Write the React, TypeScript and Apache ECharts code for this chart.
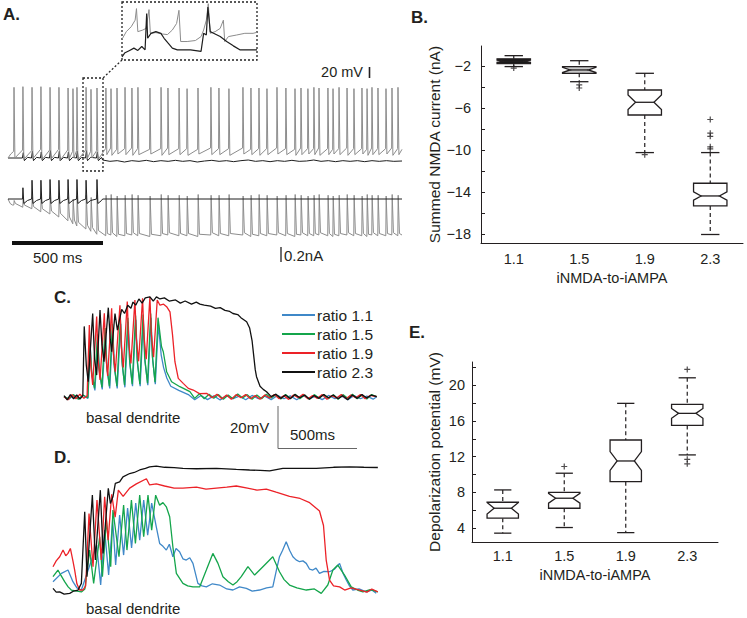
import React, { useEffect, useRef } from "react";
import * as echarts from "echarts";

// ---------------- Panel A (spike trains) ----------------
const aEndMs = 2165;
const aSpikeMs = [33, 82, 132, 181, 231, 280, 330, 357, 379, 429, 456, 489, 538, 566, 599, 643, 681, 714, 780, 841, 879, 940, 984, 1044, 1115, 1159, 1214, 1291, 1335, 1379, 1423, 1478, 1527, 1577, 1610, 1648, 1681, 1709, 1758, 1786, 1819, 1863, 1901, 1945, 1973, 2000, 2033, 2077, 2110, 2143];
const aTopPeakMv = [26, 27, 26, 27, 26, 26, 25, 24, 26, 26, 23, 25, 25, 24, 25, 26, 25, 26, 25, 26, 25, 25, 24, 25, 26, 25, 24, 26, 25, 25, 24, 26, 25, 24, 25, 24, 26, 25, 25, 24, 26, 25, 24, 25, 24, 26, 25, 24, 25, 26];
const aTopPreMv = [-70, -68, -69, -67, -68, -67, -68, -70, -69, -68, -70, -69, -66, -65, -67, -66, -65, -66, -67, -66, -65, -66, -66, -67, -65, -66, -66, -65, -67, -66, -66, -65, -66, -67, -65, -66, -66, -65, -66, -67, -66, -65, -66, -66, -67, -65, -66, -66, -65, -66];
const aTopAhpMv = [-80, -82, -81, -83, -82, -84, -82, -80, -83, -82, -80, -83, -75, -76, -74, -75, -76, -75, -74, -76, -75, -75, -76, -74, -75, -75, -76, -74, -75, -76, -75, -74, -75, -76, -75, -74, -75, -76, -75, -74, -75, -76, -75, -74, -76, -75, -75, -74, -76, -75];
const aBotPreNa = [-0.08, -0.11, -0.13, -0.17, -0.2, -0.24, -0.29, -0.33, -0.36, -0.4, -0.43, -0.47, -0.49, -0.48, -0.5, -0.49, -0.48, -0.49, -0.5, -0.49, -0.48, -0.49, -0.49, -0.5, -0.48, -0.49, -0.49, -0.48, -0.5, -0.49, -0.49, -0.48, -0.49, -0.5, -0.48, -0.49, -0.49, -0.48, -0.49, -0.5, -0.49, -0.48, -0.49, -0.49, -0.5, -0.48, -0.49, -0.49, -0.48, -0.49];
const aBotPeakNa = [-0.02, 0.0, 0.02, 0.03, 0.02, 0.04, 0.03, 0.0, 0.04, 0.05, 0.02, 0.05, 0.05, 0.06, 0.04, 0.05, 0.06, 0.05, 0.04, 0.06, 0.05, 0.05, 0.04, 0.06, 0.05, 0.05, 0.06, 0.04, 0.05, 0.06, 0.05, 0.04, 0.05, 0.06, 0.05, 0.04, 0.05, 0.06, 0.05, 0.04, 0.05, 0.06, 0.05, 0.04, 0.06, 0.05, 0.05, 0.04, 0.06, 0.05];
const aBotPostNa = [-0.06, -0.08, -0.1, -0.13, -0.16, -0.19, -0.24, -0.28, -0.31, -0.35, -0.38, -0.42, -0.46, -0.45, -0.47, -0.46, -0.45, -0.46, -0.47, -0.46, -0.45, -0.46, -0.46, -0.47, -0.45, -0.46, -0.46, -0.45, -0.47, -0.46, -0.46, -0.45, -0.46, -0.47, -0.45, -0.46, -0.46, -0.45, -0.46, -0.47, -0.46, -0.45, -0.46, -0.46, -0.47, -0.45, -0.46, -0.46, -0.45, -0.46];
const aBlackSpikeMs = [82, 132, 181, 231, 280, 330, 379, 429, 489];
const aBlackTopBumpMv = [-72, -70, -71, -69, -70, -71, -70, -69, -71];
const aBlackBotPeakNa = [0.15, 0.25, 0.25, 0.26, 0.25, 0.26, 0.26, 0.25, 0.26];
const aBlackTopTail = [[520, -83], [560, -85], [600, -84], [640, -86], [680, -84], [720, -85], [760, -83.5], [800, -85.5], [840, -84], [880, -85], [920, -83.5], [960, -85], [1000, -84], [1040, -86], [1080, -84.5], [1120, -83.5], [1160, -85], [1200, -84], [1240, -85.5], [1280, -84], [1320, -83], [1360, -85], [1400, -84], [1440, -85.5], [1480, -84], [1520, -85], [1560, -83.5], [1600, -85], [1640, -84.5], [1680, -83], [1720, -85], [1760, -84], [1800, -85.5], [1840, -84], [1880, -85], [1920, -84], [1960, -85.5], [2000, -84], [2040, -85], [2080, -84], [2120, -85], [2165, -84.5]];
const aInsetGray = [[0, 20], [3.5, 27.7], [7.5, 32.7], [10.7, 39.3], [11.8, 51], [12.9, 27.7], [16.9, 29.3], [19.6, 31], [22, 50], [23.1, 26], [27.6, 26.7], [33, 25.3], [37, 24.7], [41, 29.3], [44.5, 36], [46.4, 49.3], [47.8, 17.7], [53.1, 17.7], [59.8, 18.7], [64.4, 22.7], [66.5, 29.3], [68.7, 39.3], [70.3, 56], [71.9, 26], [75.9, 27.7], [80, 31], [82.6, 39.3], [83.7, 17.7], [86.7, 22.7], [93.4, 24.3], [100.1, 26], [106.8, 26], [110, 27]];
const aInsetBlack = [[0, 2], [2.1, 6], [6.2, 8.7], [9.7, 11], [12.9, 8.7], [16.1, 12.7], [18.8, 9.3], [20.1, 46], [20.9, 21], [23.6, 26], [27.6, 27.7], [31.7, 26], [34.3, 21], [37.6, 16], [41, 11], [45.1, 9.3], [55.8, 9.3], [64.4, 7.7], [66.5, 26], [68.7, 24.3], [70, 52.7], [71.9, 27.7], [74.6, 26], [80, 22.7], [85.3, 17.7], [90.7, 13.3], [96, 9.3], [102.8, 9.3], [110, 9.3]];

// ---------------- Panel B (summed NMDA current, nA) ----------------
const ratioCategories = ["1.1", "1.5", "1.9", "2.3"];
const bWhiskerLow = [-2.06, -3.5, -10.25, -18.05];
const bQ1 = [-1.78, -2.7, -6.67, -15.33];
const bMedian = [-1.55, -2.38, -5.46, -14.38];
const bQ3 = [-1.32, -2.06, -4.29, -13.17];
const bWhiskerHigh = [-1.02, -1.5, -2.7, -10.25];
const bNotch = [0.1, 0.25, 0.7, 0.4];
const bOutliers = [[0, -2.2], [1, -3.8], [1, -4.1], [2, -10.45], [3, -7.1], [3, -8.4], [3, -8.7], [3, -9.7], [3, -9.9]];
const bTicks = [-18, -16, -14, -12, -10, -8, -6, -4, -2];
const bLabels = [-18, -14, -10, -6, -2];

// ---------------- Panel E (depolarization, mV) ----------------
const eWhiskerLow = [3.44, 4.07, 3.5, 12.2];
const eQ1 = [5.12, 6.23, 9.2, 15.5];
const eMedian = [6.23, 7.35, 11.52, 16.85];
const eQ3 = [6.9, 8.0, 13.87, 17.86];
const eWhiskerHigh = [8.28, 10.15, 17.97, 20.83];
const eNotch = [0.65, 0.55, 1.05, 0.55];
const eOutliers = [[1, 10.9], [3, 21.77], [3, 11.7], [3, 11.2]];
const eTicks = [4, 6, 8, 10, 12, 14, 16, 18, 20, 22];
const eLabels = [4, 8, 12, 16, 20];

// ---------------- Panel C (ms, mV) ----------------
const ratioNames = ["ratio 1.1", "ratio 1.5", "ratio 1.9", "ratio 2.3"];
const cBlue = [[0, 0], [30, -1.2], [60, 0.8], [90, -1], [120, 0.6], [150, -0.8], [165, 24], [175, 10], [194, 3], [212, 28], [222, 12], [240, 3.5], [260, 31], [270, 13], [287, 4], [306, 33], [316, 14], [334, 4], [356, 35], [366, 15], [382, 4.5], [403, 36], [413, 16], [430, 5], [451, 37], [461, 16], [478, 5], [498, 37.5], [508, 17], [526, 5.5], [546, 38], [556, 18], [573, 6], [592, 35], [610, 20], [625, 14], [645, 9], [670, 5], [720, 3], [780, 1], [820, -1.5], [860, 0.6], [900, -1.4], [940, 0.4], [980, -1.6], [1020, 0.5], [1060, -1], [1100, 0.3], [1140, -1.5], [1180, 0.6], [1220, -1], [1260, 0.2], [1300, -1.4], [1340, 0.6], [1380, -1], [1420, 0.4], [1460, -1.5], [1500, 0.5], [1540, -1], [1580, 0.3], [1620, -1.4], [1660, 0.6], [1700, -1], [1740, 0.4], [1780, -1.5], [1820, 0.5], [1860, -1], [1900, 0.3], [1940, -1.2], [1962, 0]];
const cGreen = [[0, 0], [30, -1], [60, 1], [90, -1.2], [120, 0.8], [150, -0.5], [163, 26], [173, 12], [192, 4], [210, 30], [220, 14], [238, 4.5], [258, 33], [268, 15], [285, 5], [304, 35], [314, 16], [332, 5], [354, 37], [364, 17], [380, 5.5], [401, 38], [411, 18], [428, 6], [449, 39], [459, 18], [476, 6], [496, 39.5], [506, 19], [524, 6.5], [544, 40], [554, 20], [571, 7], [590, 38], [612, 24], [623, 21.6], [644, 12], [675, 7.2], [727, 4.8], [790, 2.4], [820, -0.8], [850, 1.4], [880, -1], [910, 1.2], [940, -0.8], [970, 1], [1000, -1.2], [1030, 0.8], [1060, -1], [1090, 1.3], [1120, -0.6], [1150, 1], [1180, -1.2], [1210, 0.8], [1240, -1], [1270, 1.2], [1300, -0.6], [1330, 0.9], [1360, -1.1], [1390, 1], [1420, -0.8], [1450, 1.2], [1480, -1], [1510, 0.8], [1540, -1.2], [1570, 1], [1600, -0.7], [1630, 1.1], [1660, -1], [1690, 0.9], [1720, -1.2], [1750, 1], [1780, -0.8], [1810, 1.2], [1840, -1], [1870, 0.8], [1900, -1.1], [1930, 1], [1962, 0]];
const cRed = [[0, 0], [25, -1.5], [50, 1], [75, -1], [100, 1.2], [125, -0.8], [145, 0.5], [159, 34.5], [168, 15], [180, 5.6], [205, 38.5], [214, 18], [226, 8], [253, 40.1], [262, 20], [274, 10], [299, 42.5], [308, 22], [322, 12], [351, 44], [360, 24], [372, 14], [397, 45.7], [406, 26], [420, 16], [445, 46.5], [454, 28], [468, 17], [493, 47.3], [502, 29], [516, 18], [539, 48], [548, 30], [562, 19], [585, 46.5], [602, 44], [625, 44.5], [644, 43.3], [665, 40.8], [681, 29.7], [696, 16.8], [717, 8.8], [748, 6.4], [780, 4], [811, 3.2], [850, 1.5], [895, 1.6], [930, -0.5], [960, 1.2], [990, -1], [1020, 0.8], [1050, -1.2], [1080, 1], [1110, -0.5], [1140, 1], [1170, -1], [1200, 0.6], [1230, -1.2], [1260, 0.8], [1290, -0.6], [1320, 1], [1350, -1], [1380, 0.5], [1410, -1.3], [1440, 0.8], [1470, -0.5], [1500, 1.2], [1530, -1], [1560, 0.6], [1590, -0.8], [1620, 1], [1650, -1.2], [1680, 0.5], [1710, -0.6], [1740, 1], [1770, -1], [1800, 0.8], [1830, -0.5], [1860, 1], [1890, -1], [1920, 0.6], [1962, 0]];
const cBlack = [[0, 0.5], [20, -1.5], [40, 1], [60, -1], [80, 0.8], [100, -1.2], [118, 0.5], [127, 33.8], [140, 15], [152, 7.2], [180, 40], [192, 18], [205, 10.4], [226, 41.7], [238, 25], [251, 16.8], [278, 42.8], [290, 28], [299, 21.6], [320, 40], [335, 32], [362, 42], [380, 40], [400, 44], [420, 42.5], [433, 45.5], [450, 44], [470, 47], [490, 45], [510, 47.5], [539, 48], [560, 46], [580, 48], [602, 47], [630, 47.5], [660, 46], [700, 46.5], [730, 45], [760, 46], [800, 44.5], [830, 45.5], [853, 44.5], [880, 44], [920, 43.5], [950, 42.5], [980, 42.8], [1010, 41.5], [1040, 41], [1060, 40], [1090, 39.5], [1110, 38], [1146, 36], [1165, 33], [1180, 27], [1190, 20], [1200, 13], [1208, 9.6], [1230, 5], [1250, 3.5], [1271, 2.4], [1300, 0], [1330, 1.2], [1360, -0.8], [1390, 0.8], [1420, -1], [1450, 1], [1480, -0.5], [1510, 0.8], [1540, -1.2], [1570, 0.6], [1600, -0.8], [1630, 1], [1660, -0.5], [1690, 0.8], [1720, -1], [1750, 0.5], [1780, -1.5], [1810, 0.8], [1840, -0.8], [1870, 1], [1900, -0.6], [1930, 0.8], [1962, 0]];

// ---------------- Panel D (ms, mV) ----------------
const dBlue = [[0, 5], [53, 9], [94, 10.6], [125, 5], [150, 2], [178, 1], [274, 22.6], [299, 3.4], [324, 29.8], [349, 8.2], [374, 34.6], [393, 13], [418, 37], [443, 17.8], [468, 40.4], [493, 21.2], [519, 42.8], [544, 25], [569, 44.2], [594, 27.4], [619, 42.8], [648, 31.4], [669, 23.4], [690, 22], [711, 20.2], [730, 23], [752, 17], [772, 21], [794, 19.4], [815, 16], [836, 15.4], [858, 16.5], [878, 13.8], [909, 4.2], [935, 3], [962, 2.5], [1000, 4], [1045, 3.4], [1090, 1.5], [1129, 1], [1170, 2.5], [1213, 1.8], [1250, 0.5], [1296, 1], [1340, 2], [1379, 2.5], [1400, 10], [1421, 17], [1440, 20], [1463, 24.2], [1485, 20], [1505, 17], [1525, 15.5], [1547, 14.6], [1568, 15], [1589, 13.8], [1610, 11], [1630, 10.6], [1650, 11.5], [1672, 9], [1700, 10], [1735, 9.8], [1765, 11], [1798, 13.8], [1820, 9], [1840, 5.8], [1860, 3], [1881, 1], [1920, 1.5], [1965, 0.1], [2000, 1], [2028, -0.6]];
const dGreen = [[0, 7.4], [31, 10.6], [50, 8], [73, 5], [95, 2.5], [115, 1], [178, 0.1], [200, 1.5], [230, 20.2], [255, 4.2], [293, 26.6], [310, 7.4], [335, 34.6], [362, 12.2], [376, 39.4], [414, 17], [443, 41.8], [464, 20.2], [492, 44.2], [517, 23.4], [544, 46.6], [569, 26.6], [596, 46.6], [619, 29.8], [644, 46.6], [669, 41.8], [690, 43], [711, 41], [732, 36.2], [752, 21.8], [774, 9], [815, 4.2], [845, 3], [878, 2.5], [920, 2.5], [962, 10.6], [1003, 18.6], [1035, 13.8], [1066, 7.4], [1100, 5], [1129, 3.4], [1155, 5], [1181, 7.4], [1223, 12.2], [1265, 8.2], [1317, 12.2], [1379, 17], [1421, 9.8], [1450, 6], [1484, 3.4], [1530, 2], [1589, 1], [1640, 1.5], [1683, -0.6], [1724, 3.4], [1756, 10.6], [1787, 13], [1829, 8.2], [1871, 2.5], [1910, 1], [1944, 0.1], [1990, 1.2], [2038, 0.1]];
const dRed = [[0, 12.2], [20, 15], [42, 17], [63, 20.2], [80, 17.5], [94, 18.6], [109, 21], [125, 15], [136, 10.6], [150, 4], [167, 1], [188, 1], [205, 3], [226, 37.8], [251, 12.2], [276, 44.2], [303, 15.4], [324, 45.8], [346, 25], [368, 47], [390, 36], [410, 49], [440, 46], [481, 50], [523, 52], [586, 54.5], [606, 51.5], [648, 52], [700, 51], [760, 50], [815, 50], [900, 50.5], [960, 49.5], [1025, 50], [1090, 50.5], [1150, 51], [1220, 50], [1280, 49], [1338, 49.5], [1400, 48], [1484, 46], [1550, 45], [1610, 43], [1672, 39], [1697, 32], [1714, 15.4], [1735, 5.8], [1760, 3], [1798, 2.5], [1830, 1], [1870, 2], [1924, 1], [1970, 0], [2000, 1.5], [2038, 0.1]];
const dBlack = [[0, 1.8], [20, 0], [42, 0.1], [70, -1], [105, -0.6], [130, 0.5], [157, 1], [178, 4.2], [199, 38.6], [213, 7.4], [247, 46.6], [266, 15.4], [297, 49], [314, 18.6], [347, 49.9], [360, 42.6], [376, 45.8], [391, 52.3], [418, 53], [439, 55.4], [481, 57], [510, 57.5], [544, 58.7], [580, 59.5], [606, 60.2], [648, 60.6], [700, 60], [760, 59.8], [815, 59.5], [900, 59.3], [1025, 59.5], [1150, 59], [1233, 58.7], [1300, 58.5], [1359, 58.3], [1442, 59.5], [1550, 59.5], [1652, 59.5], [1760, 60], [1861, 60.2], [1950, 60], [2038, 59.9]];

const TXT = "#231f20";
const FONT = '"Liberation Sans", Arial, Helvetica, sans-serif';
const traceColors = ["#3f88c8", "#14a54b", "#ec2228", "#111111"];
const boxFillsB = ["#1a1a1a", "#c9c9c9", "#ffffff", "#ffffff"];
const boxFillsE = ["#ffffff", "#ffffff", "#ffffff", "#ffffff"];

function grayTop() {
  const pts: number[][] = [[0, -80], [15, -74]];
  aSpikeMs.forEach((t, i) => {
    pts.push([t - 2, aTopPreMv[i]], [t, aTopPeakMv[i]], [t + 5, aTopAhpMv[i]]);
  });
  pts.push([aEndMs, -67]);
  return pts;
}
function blackTop() {
  const pts: number[][] = [[0, -80]];
  aBlackSpikeMs.forEach((t, i) => {
    pts.push([t - 3, -80], [t + 2, aBlackTopBumpMv[i]], [t + 8, -84], [t + 25, -79]);
  });
  return pts.concat(aBlackTopTail);
}
function grayBottom() {
  const pts: number[][] = [[0, 0], [12, -0.06], [24, -0.08]];
  aSpikeMs.forEach((t, i) => {
    pts.push([t - 1, aBotPreNa[i]], [t + 1, aBotPeakNa[i]], [t + 8, aBotPostNa[i]]);
  });
  pts.push([aEndMs, -0.48]);
  return pts;
}
function blackBottom() {
  const pts: number[][] = [[0, 0]];
  aBlackSpikeMs.forEach((t, i) => {
    pts.push([t - 2, 0], [t, aBlackBotPeakNa[i]], [t + 5, -0.06], [t + 25, -0.02]);
  });
  pts.push([520, 0], [aEndMs, 0]);
  return pts;
}

function boxRender(fills: string[]) {
  return (params: any, api: any) => {
    const i = api.value(0);
    const lo = api.value(1), q1 = api.value(2), med = api.value(3), q3 = api.value(4), hi = api.value(5), nh = api.value(6);
    const c = api.coord([i, med]);
    const cx = c[0], ym = c[1];
    const ya = api.coord([i, q1])[1], yb = api.coord([i, q3])[1];
    const yTop = Math.min(ya, yb), yBot = Math.max(ya, yb);
    const n1 = api.coord([i, med + nh])[1], n2 = api.coord([i, med - nh])[1];
    const nTop = Math.max(Math.min(n1, n2), yTop), nBot = Math.min(Math.max(n1, n2), yBot);
    const w1 = api.coord([i, lo])[1], w2 = api.coord([i, hi])[1];
    const wTop = Math.min(w1, w2), wBot = Math.max(w1, w2);
    const band = api.size([1, 0])[0];
    const hw = band * 0.255, ind = hw * 0.45, cap = hw * 0.55;
    const L = cx - hw, R = cx + hw;
    const ln = { stroke: TXT, lineWidth: 1.3 };
    const dash = { stroke: TXT, lineWidth: 1.2, lineDash: [4, 3] };
    return {
      type: "group",
      children: [
        { type: "line", shape: { x1: cx, y1: wTop, x2: cx, y2: yTop }, style: dash },
        { type: "line", shape: { x1: cx, y1: yBot, x2: cx, y2: wBot }, style: dash },
        { type: "line", shape: { x1: cx - cap, y1: wTop, x2: cx + cap, y2: wTop }, style: ln },
        { type: "line", shape: { x1: cx - cap, y1: wBot, x2: cx + cap, y2: wBot }, style: ln },
        {
          type: "polygon",
          shape: { points: [[L, yTop], [R, yTop], [R, nTop], [R - ind, ym], [R, nBot], [R, yBot], [L, yBot], [L, nBot], [L + ind, ym], [L, nTop]] },
          style: { fill: fills[params.dataIndex], stroke: TXT, lineWidth: 1.3 },
        },
        { type: "line", shape: { x1: L + ind, y1: ym, x2: R - ind, y2: ym }, style: ln },
      ],
    };
  };
}

const plusSymbol = "path://M2,0H3V2H5V3H3V5H2V3H0V2H2Z";

export default function App() {
  const ref = useRef<HTMLDivElement>(null);
  useEffect(() => {
    if (!ref.current) return;
    const chart = echarts.init(ref.current, undefined, { renderer: "svg" });
    const hiddenX = (gi: number, max: number) => ({ gridIndex: gi, type: "value", min: 0, max, show: false });
    const hiddenY = (gi: number, min: number, max: number) => ({ gridIndex: gi, type: "value", min, max, show: false });
    const trace = (name: string, data: number[][], xi: number, color: string, width: number) => ({
      name, type: "line", xAxisIndex: xi, yAxisIndex: xi, data, showSymbol: false, symbol: "none",
      lineStyle: { color, width }, itemStyle: { color }, silent: true,
    });
    const boxData = (lo: number[], q1: number[], md: number[], q3: number[], hi: number[], nt: number[]) =>
      ratioCategories.map((_, i) => [i, lo[i], q1[i], md[i], q3[i], hi[i], nt[i]]);
    const catAxis = (gi: number, nameGap: number, margin: number) => ({
      gridIndex: gi, type: "category", data: ratioCategories, boundaryGap: true,
      axisLine: { show: true, lineStyle: { color: TXT, width: 1 } }, axisTick: { show: false },
      axisLabel: { color: TXT, fontSize: 14.5, margin, fontFamily: FONT },
      name: "iNMDA-to-iAMPA", nameLocation: "middle", nameGap,
      nameTextStyle: { color: TXT, fontSize: 14.5, fontFamily: FONT },
    });
    const valAxis = (gi: number, min: number, max: number, ticks: number[], labels: number[], name: string, nameGap: number, margin: number) => ({
      gridIndex: gi, type: "value", min, max,
      axisLine: { show: true, lineStyle: { color: TXT, width: 1 } },
      axisTick: { show: true, inside: true, length: 4, customValues: ticks, lineStyle: { color: TXT } },
      axisLabel: { customValues: labels, color: TXT, fontSize: 14.5, margin, fontFamily: FONT, formatter: (v: number) => String(v).replace("-", "\u2212") },
      splitLine: { show: false },
      name, nameLocation: "middle", nameGap, nameTextStyle: { color: TXT, fontSize: 15.5, fontFamily: FONT },
    });

    const txt = (text: string, x: number, y: number, size: number, opts: any = {}) => ({
      type: "text", x, y, silent: true,
      style: { text, fill: TXT, fontSize: size, fontFamily: FONT, fontWeight: opts.bold ? "bold" : "normal", align: opts.align || "left", verticalAlign: "middle" },
    });
    const seg = (x1: number, y1: number, x2: number, y2: number, style: any) => ({ type: "line", silent: true, shape: { x1, y1, x2, y2 }, style });

    chart.setOption({
      animation: false,
      backgroundColor: "#ffffff",
      textStyle: { fontFamily: FONT },
      grid: [
        { left: 8, top: 78, width: 394, height: 94 },
        { left: 8, top: 175, width: 394, height: 75 },
        { left: 122, top: 3, width: 135, height: 56 },
        { left: 481, top: 46, width: 262, height: 197 },
        { left: 64, top: 290, width: 313, height: 115 },
        { left: 53, top: 455, width: 325, height: 145 },
        { left: 472, top: 362, width: 246, height: 180 },
      ],
      xAxis: [
        hiddenX(0, aEndMs), hiddenX(1, aEndMs), hiddenX(2, 110),
        catAxis(3, 27, 8),
        hiddenX(4, 1964), hiddenX(5, 2039),
        catAxis(6, 25, 6),
      ],
      yAxis: [
        hiddenY(0, -101, 40), hiddenY(1, -0.68, 0.32), hiddenY(2, 0, 56.7),
        valAxis(3, -18.86, -0.1, bTicks, bLabels, "Summed NMDA current (nA)", 35, 10),
        hiddenY(4, -4, 51.3), hiddenY(5, -3.8, 65.9),
        valAxis(6, 2.45, 22.6, eTicks, eLabels, "Depolarization potential (mV)", 30, 7),
      ],
      legend: {
        data: ratioNames, orient: "vertical", left: 277, top: 302, itemWidth: 33, itemHeight: 2, itemGap: 3,
        icon: "rect", selectedMode: false,
        textStyle: { color: TXT, fontSize: 15.5, fontFamily: FONT, lineHeight: 16, padding: [0, 0, 0, -3] },
      },
      series: [
        trace("top black", blackTop(), 0, "#1e1e1e", 1),
        trace("top gray", grayTop(), 0, "#8c8c8c", 1),
        trace("bottom gray", grayBottom(), 1, "#8c8c8c", 1),
        trace("bottom black", blackBottom(), 1, "#1e1e1e", 1),
        trace("inset gray", aInsetGray, 2, "#8c8c8c", 1),
        trace("inset black", aInsetBlack, 2, "#1e1e1e", 1.2),
        {
          type: "custom", xAxisIndex: 3, yAxisIndex: 3, renderItem: boxRender(boxFillsB),
          data: boxData(bWhiskerLow, bQ1, bMedian, bQ3, bWhiskerHigh, bNotch), encode: { x: 0, y: [1, 5] }, silent: true,
        },
        { type: "scatter", xAxisIndex: 3, yAxisIndex: 3, data: bOutliers, symbol: plusSymbol, symbolSize: 6, itemStyle: { color: TXT }, silent: true },
        trace(ratioNames[0], cBlue, 4, traceColors[0], 1.3),
        trace(ratioNames[1], cGreen, 4, traceColors[1], 1.3),
        trace(ratioNames[2], cRed, 4, traceColors[2], 1.3),
        trace(ratioNames[3], cBlack, 4, traceColors[3], 1.3),
        trace(ratioNames[0], dBlue, 5, traceColors[0], 1.3),
        trace(ratioNames[1], dGreen, 5, traceColors[1], 1.3),
        trace(ratioNames[2], dRed, 5, traceColors[2], 1.3),
        trace(ratioNames[3], dBlack, 5, traceColors[3], 1.3),
        {
          type: "custom", xAxisIndex: 6, yAxisIndex: 6, renderItem: boxRender(boxFillsE),
          data: boxData(eWhiskerLow, eQ1, eMedian, eQ3, eWhiskerHigh, eNotch), encode: { x: 0, y: [1, 5] }, silent: true,
        },
        { type: "scatter", xAxisIndex: 6, yAxisIndex: 6, data: eOutliers, symbol: plusSymbol, symbolSize: 6, itemStyle: { color: TXT }, silent: true },
      ],
      graphic: [
        txt("A.", 3, 14, 17, { bold: true }),
        txt("B.", 411, 17, 17, { bold: true }),
        txt("C.", 54, 297, 17, { bold: true }),
        txt("D.", 54, 457, 17, { bold: true }),
        txt("E.", 409, 332, 17, { bold: true }),
        // panel A annotations
        { type: "rect", silent: true, shape: { x: 122, y: 2, width: 135, height: 58 }, style: { fill: "none", stroke: "#222", lineWidth: 1.3, lineDash: [2, 2] } },
        { type: "rect", silent: true, shape: { x: 83, y: 78, width: 20, height: 93 }, style: { fill: "none", stroke: "#222", lineWidth: 1.3, lineDash: [2, 2] } },
        seg(122, 60, 103, 78, { stroke: "#222", lineWidth: 1.3, lineDash: [2, 2] }),
        txt("20 mV", 363, 72, 14.5, { align: "right" }),
        seg(369.5, 67, 369.5, 78, { stroke: TXT, lineWidth: 1.6 }),
        { type: "rect", silent: true, shape: { x: 12, y: 241, width: 91, height: 4 }, style: { fill: "#111" } },
        txt("500 ms", 33, 257, 15),
        seg(281, 247, 281, 262, { stroke: TXT, lineWidth: 1.3 }),
        txt("0.2nA", 284, 255, 15),
        // panel C / D annotations
        txt("basal dendrite", 86, 417, 15),
        txt("20mV", 230, 427, 15),
        txt("500ms", 290, 434, 15),
        seg(278, 406, 278, 448.5, { stroke: "#666", lineWidth: 1 }),
        seg(278, 448.5, 357, 448.5, { stroke: "#666", lineWidth: 1 }),
        txt("basal dendrite", 86, 608, 15),
      ],
    });
    return () => chart.dispose();
  }, []);
  return <div ref={ref} style={{ position: "absolute", left: 0, top: 0, width: 747, height: 618, background: "#fff" }} />;
}
